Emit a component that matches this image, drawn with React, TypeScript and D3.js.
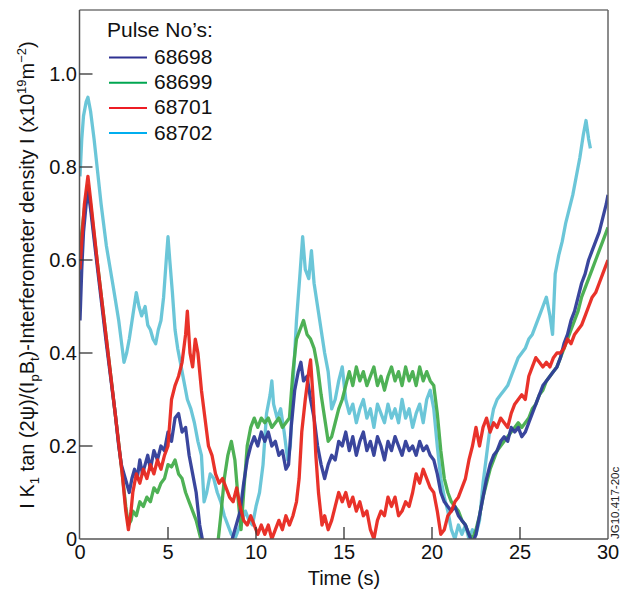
import React from "react";
import * as d3 from "d3";

type P = [number, number];

const xTicks = [0, 5, 10, 15, 20, 25, 30];
const yTicks = [0, 0.2, 0.4, 0.6, 0.8, 1.0];
const yTickLabels = ["0", "0.2", "0.4", "0.6", "0.8", "1.0"];

const pulse68698: P[] = [
  [0,0.47],[0.1,0.58],[0.2,0.66],[0.35,0.72],[0.45,0.75],[0.6,0.71],[1.0,0.58],[1.5,0.42],[2.0,0.27],[2.2,0.2],[2.35,0.16],[2.5,0.14],[2.65,0.12],[2.8,0.1],[2.95,0.13],[3.1,0.15],[3.25,0.13],[3.4,0.17],[3.55,0.14],[3.7,0.16],[3.85,0.18],[4.0,0.15],[4.2,0.19],[4.4,0.17],[4.6,0.2],[4.8,0.19],[5.0,0.23],[5.2,0.21],[5.4,0.26],[5.6,0.27],[5.8,0.23],[6.0,0.24],[6.2,0.18],[6.4,0.14],[6.6,0.1],[6.8,0.03],[6.95,0.0],[7.2,-0.02],[8.5,-0.02],[8.8,0.02],[9.1,0.06],[9.3,0.12],[9.5,0.17],[9.7,0.2],[9.9,0.22],[10.1,0.2],[10.3,0.23],[10.5,0.21],[10.7,0.23],[10.9,0.2],[11.1,0.21],[11.3,0.18],[11.5,0.19],[11.7,0.15],[11.85,0.16],[12.0,0.24],[12.2,0.32],[12.4,0.36],[12.55,0.38],[12.7,0.34],[12.9,0.35],[13.1,0.3],[13.3,0.26],[13.5,0.2],[13.7,0.16],[13.9,0.13],[14.1,0.16],[14.3,0.18],[14.5,0.17],[14.7,0.21],[14.9,0.2],[15.1,0.23],[15.3,0.19],[15.5,0.22],[15.7,0.18],[15.9,0.21],[16.1,0.23],[16.3,0.19],[16.5,0.21],[16.7,0.18],[16.9,0.22],[17.1,0.2],[17.3,0.17],[17.5,0.21],[17.7,0.19],[17.9,0.22],[18.1,0.2],[18.3,0.18],[18.5,0.21],[18.7,0.19],[18.9,0.2],[19.1,0.18],[19.3,0.21],[19.5,0.19],[19.7,0.2],[19.9,0.18],[20.1,0.17],[20.3,0.14],[20.5,0.1],[20.7,0.08],[20.9,0.07],[21.1,0.06],[21.3,0.07],[21.5,0.05],[21.7,0.04],[21.9,0.03],[22.1,0.01],[22.3,-0.01],[22.5,0.01],[22.7,0.05],[22.9,0.09],[23.1,0.13],[23.3,0.16],[23.5,0.18],[23.7,0.19],[23.9,0.21],[24.1,0.22],[24.3,0.21],[24.5,0.24],[24.7,0.23],[24.9,0.24],[25.1,0.22],[25.3,0.23],[25.5,0.25],[25.7,0.27],[25.9,0.29],[26.1,0.31],[26.3,0.33],[26.5,0.34],[26.7,0.35],[26.9,0.36],[27.1,0.37],[27.3,0.39],[27.5,0.42],[27.7,0.44],[27.9,0.47],[28.1,0.49],[28.3,0.52],[28.5,0.55],[28.7,0.57],[28.9,0.6],[29.1,0.62],[29.3,0.64],[29.5,0.66],[29.7,0.69],[29.9,0.72],[30,0.74]
];

const pulse68699: P[] = [
  [0,0.6],[0.1,0.66],[0.25,0.71],[0.45,0.76],[0.6,0.72],[1.0,0.59],[1.5,0.43],[2.0,0.27],[2.4,0.14],[2.6,0.07],[2.75,0.03],[2.9,0.04],[3.0,0.06],[3.2,0.05],[3.4,0.08],[3.6,0.07],[3.8,0.09],[4.0,0.08],[4.2,0.11],[4.4,0.1],[4.6,0.12],[4.8,0.13],[5.0,0.16],[5.2,0.155],[5.4,0.17],[5.6,0.14],[5.8,0.13],[6.0,0.1],[6.2,0.08],[6.4,0.06],[6.6,0.04],[6.8,0.01],[7.0,-0.02],[7.8,-0.02],[8.0,0.05],[8.2,0.13],[8.4,0.18],[8.6,0.21],[8.8,0.17],[9.0,0.08],[9.15,0.02],[9.3,0.1],[9.5,0.2],[9.7,0.24],[9.9,0.26],[10.1,0.24],[10.3,0.26],[10.5,0.25],[10.7,0.26],[10.9,0.24],[11.1,0.25],[11.3,0.26],[11.5,0.24],[11.7,0.25],[11.9,0.26],[12.1,0.36],[12.3,0.43],[12.5,0.45],[12.7,0.47],[12.9,0.44],[13.1,0.43],[13.3,0.41],[13.5,0.37],[13.7,0.31],[13.9,0.26],[14.1,0.21],[14.3,0.22],[14.5,0.25],[14.7,0.28],[14.9,0.3],[15.1,0.33],[15.3,0.36],[15.5,0.33],[15.7,0.37],[15.9,0.34],[16.1,0.36],[16.3,0.33],[16.5,0.35],[16.7,0.37],[16.9,0.33],[17.1,0.35],[17.3,0.32],[17.5,0.35],[17.7,0.37],[17.9,0.34],[18.1,0.36],[18.3,0.33],[18.5,0.37],[18.7,0.34],[18.9,0.36],[19.1,0.33],[19.3,0.37],[19.5,0.34],[19.7,0.36],[19.9,0.34],[20.1,0.33],[20.3,0.27],[20.5,0.19],[20.7,0.13],[20.9,0.1],[21.1,0.08],[21.3,0.07],[21.5,0.06],[21.7,0.04],[21.9,0.03],[22.1,0.01],[22.3,0.0],[22.5,0.02],[22.7,0.05],[22.9,0.09],[23.1,0.12],[23.3,0.15],[23.5,0.17],[23.7,0.19],[23.9,0.2],[24.1,0.21],[24.3,0.22],[24.5,0.23],[24.7,0.24],[24.9,0.25],[25.1,0.24],[25.3,0.25],[25.5,0.26],[25.7,0.28],[25.9,0.29],[26.1,0.31],[26.3,0.32],[26.5,0.34],[26.7,0.35],[26.9,0.36],[27.1,0.37],[27.3,0.39],[27.5,0.41],[27.7,0.43],[27.9,0.45],[28.1,0.47],[28.3,0.49],[28.5,0.52],[28.7,0.54],[28.9,0.56],[29.1,0.58],[29.3,0.6],[29.5,0.62],[29.7,0.64],[29.9,0.66],[30,0.67]
];

const pulse68701: P[] = [
  [0,0.58],[0.1,0.64],[0.25,0.72],[0.45,0.78],[0.6,0.73],[1.0,0.59],[1.5,0.43],[2.0,0.27],[2.4,0.14],[2.6,0.06],[2.75,0.02],[2.9,0.06],[3.0,0.1],[3.2,0.14],[3.4,0.12],[3.6,0.15],[3.8,0.13],[4.0,0.16],[4.2,0.14],[4.4,0.17],[4.6,0.15],[4.8,0.18],[5.0,0.2],[5.2,0.3],[5.4,0.33],[5.6,0.35],[5.8,0.38],[6.0,0.44],[6.1,0.49],[6.25,0.4],[6.4,0.37],[6.55,0.43],[6.7,0.4],[6.9,0.32],[7.1,0.26],[7.3,0.2],[7.5,0.18],[7.7,0.14],[7.9,0.12],[8.1,0.13],[8.3,0.11],[8.5,0.09],[8.7,0.08],[8.9,0.11],[9.1,0.07],[9.3,0.04],[9.5,0.03],[9.7,0.05],[9.9,0.03],[10.1,0.01],[10.3,0.03],[10.5,0.01],[10.7,0.03],[10.9,0.0],[11.1,0.02],[11.3,0.04],[11.5,0.02],[11.7,0.05],[11.9,0.03],[12.1,0.05],[12.3,0.08],[12.45,0.13],[12.6,0.23],[12.8,0.3],[13.0,0.36],[13.1,0.385],[13.25,0.3],[13.4,0.18],[13.55,0.1],[13.75,0.03],[13.9,0.05],[14.1,0.02],[14.3,0.04],[14.5,0.07],[14.7,0.1],[14.9,0.08],[15.1,0.1],[15.3,0.07],[15.5,0.09],[15.7,0.06],[15.9,0.08],[16.1,0.05],[16.3,0.06],[16.5,0.02],[16.7,0.0],[16.9,0.04],[17.1,0.06],[17.3,0.05],[17.5,0.09],[17.7,0.07],[17.9,0.09],[18.1,0.05],[18.3,0.06],[18.5,0.08],[18.7,0.07],[18.9,0.1],[19.1,0.14],[19.3,0.12],[19.5,0.15],[19.7,0.13],[19.9,0.11],[20.1,0.1],[20.3,0.06],[20.5,0.01],[20.7,0.02],[20.9,0.05],[21.1,0.06],[21.3,0.08],[21.5,0.09],[21.7,0.11],[21.9,0.13],[22.1,0.17],[22.3,0.2],[22.5,0.24],[22.7,0.2],[22.9,0.24],[23.1,0.26],[23.3,0.23],[23.5,0.25],[23.7,0.24],[23.9,0.26],[24.1,0.25],[24.3,0.24],[24.5,0.27],[24.7,0.29],[24.9,0.3],[25.1,0.31],[25.3,0.3],[25.5,0.35],[25.7,0.37],[25.9,0.39],[26.1,0.38],[26.3,0.37],[26.5,0.38],[26.7,0.37],[26.9,0.39],[27.1,0.4],[27.3,0.4],[27.5,0.41],[27.7,0.43],[27.9,0.42],[28.1,0.44],[28.3,0.45],[28.5,0.46],[28.7,0.48],[28.9,0.5],[29.1,0.52],[29.3,0.53],[29.5,0.55],[29.7,0.57],[29.9,0.59],[30,0.6]
];

const pulse68702: P[] = [
  [0,0.78],[0.1,0.86],[0.2,0.91],[0.35,0.94],[0.45,0.95],[0.6,0.92],[0.8,0.86],[1.0,0.79],[1.2,0.72],[1.5,0.63],[1.9,0.54],[2.2,0.47],[2.4,0.41],[2.5,0.38],[2.65,0.4],[2.8,0.43],[3.0,0.48],[3.2,0.53],[3.35,0.5],[3.5,0.48],[3.7,0.5],[3.85,0.46],[4.0,0.45],[4.15,0.43],[4.3,0.42],[4.45,0.45],[4.6,0.47],[4.75,0.52],[4.9,0.6],[5.0,0.65],[5.1,0.6],[5.25,0.53],[5.4,0.45],[5.55,0.41],[5.7,0.38],[5.9,0.34],[6.1,0.3],[6.3,0.28],[6.5,0.25],[6.7,0.21],[6.9,0.18],[7.05,0.08],[7.2,0.1],[7.4,0.14],[7.6,0.13],[7.8,0.1],[8.0,0.08],[8.2,0.05],[8.4,0.03],[8.6,0.01],[8.8,0.0],[9.0,0.02],[9.2,0.04],[9.4,0.06],[9.6,0.04],[9.8,0.03],[10.0,0.07],[10.2,0.1],[10.4,0.16],[10.6,0.27],[10.8,0.31],[10.9,0.34],[11.0,0.29],[11.2,0.26],[11.4,0.28],[11.6,0.23],[11.8,0.17],[11.95,0.2],[12.1,0.33],[12.3,0.47],[12.5,0.57],[12.65,0.65],[12.8,0.58],[13.0,0.56],[13.15,0.62],[13.3,0.55],[13.5,0.5],[13.7,0.45],[13.9,0.4],[14.1,0.36],[14.3,0.28],[14.5,0.3],[14.7,0.34],[14.9,0.37],[15.1,0.3],[15.3,0.27],[15.5,0.29],[15.7,0.25],[15.9,0.28],[16.1,0.3],[16.3,0.26],[16.5,0.28],[16.7,0.24],[16.9,0.29],[17.1,0.27],[17.3,0.25],[17.5,0.29],[17.7,0.26],[17.9,0.28],[18.1,0.25],[18.3,0.3],[18.5,0.26],[18.7,0.28],[18.9,0.24],[19.1,0.27],[19.3,0.29],[19.5,0.25],[19.7,0.3],[19.9,0.32],[20.1,0.28],[20.3,0.2],[20.5,0.13],[20.7,0.09],[20.9,0.06],[21.1,0.02],[21.3,0.0],[21.5,0.03],[21.7,0.01],[21.9,0.03],[22.1,0.0],[22.3,0.02],[22.5,0.01],[22.7,0.04],[22.9,0.12],[23.1,0.18],[23.3,0.24],[23.5,0.28],[23.7,0.3],[23.9,0.31],[24.1,0.32],[24.3,0.33],[24.5,0.35],[24.7,0.37],[24.9,0.39],[25.1,0.4],[25.3,0.41],[25.5,0.43],[25.7,0.44],[25.9,0.46],[26.1,0.48],[26.3,0.5],[26.5,0.52],[26.7,0.48],[26.85,0.44],[27.0,0.57],[27.2,0.61],[27.4,0.64],[27.6,0.68],[27.8,0.71],[28.0,0.74],[28.2,0.78],[28.4,0.82],[28.6,0.87],[28.75,0.9],[28.9,0.86],[29.0,0.84]
];

const seriesNames = ["68698", "68699", "68701", "68702"];
const legendColors = ["#2e3192", "#00a651", "#ed1c24", "#00aeef"];
const traceColors = ["#2f3c98", "#45ad4c", "#e8271f", "#63c3d6"];
const seriesData = [pulse68698, pulse68699, pulse68701, pulse68702];
const drawOrder = [3, 1, 0, 2];

const W = 622, H = 590;
const L = 79.5, R = 608, T = 10, B = 539;
const FONT = "'Liberation Sans', Arial, Helvetica, sans-serif";

export default function App() {
  const x = d3.scaleLinear().domain([0, 30]).range([80, R]);
  const y = d3.scaleLinear().domain([0, 1.0]).range([B, 74]);
  const line = d3.line<P>().x(d => x(d[0])).y(d => y(d[1]));

  return (
    <svg width={W} height={H} style={{ position: "absolute", left: 0, top: 0, background: "#fff" }}
      fontFamily={FONT}>
      <defs>
        <clipPath id="plot"><rect x={L} y={T} width={R - L} height={B - T} /></clipPath>
      </defs>
      <rect x={0} y={0} width={W} height={H} fill="#fff" />
      <g clipPath="url(#plot)">
        {drawOrder.map(i => (
          <path key={i} d={line(seriesData[i]) || ""} fill="none" stroke={traceColors[i]}
            strokeWidth={3.3} strokeLinejoin="round" opacity={0.95} />
        ))}
      </g>
      {/* frame */}
      <line x1={L} y1={T} x2={R} y2={T} stroke="#333" strokeWidth={1.2} />
      <line x1={R} y1={T} x2={R} y2={B} stroke="#666" strokeWidth={1.5} />
      <line x1={L} y1={T} x2={L} y2={B} stroke="#555" strokeWidth={1.5} />
      <line x1={L} y1={B} x2={R} y2={B} stroke="#555" strokeWidth={1.5} />
      {/* y ticks */}
      {yTicks.map((v, i) => (
        <g key={"y" + i}>
          {v > 0 && <line x1={L} x2={L + 13} y1={y(v)} y2={y(v)} stroke="#333" strokeWidth={1.3} />}
          <text x={77} y={y(v)} dy="0.36em" textAnchor="end" fontSize={20} fill="#111">{yTickLabels[i]}</text>
        </g>
      ))}
      {/* x ticks */}
      {xTicks.map((v, i) => (
        <g key={"x" + i}>
          {v > 0 && v < 30 && <line x1={x(v)} x2={x(v)} y1={B} y2={B - 12} stroke="#333" strokeWidth={1.3} />}
          <text x={x(v)} y={559} textAnchor="middle" fontSize={20} fill="#111">{v}</text>
        </g>
      ))}
      <text x={(80 + R) / 2} y={585} textAnchor="middle" fontSize={20} fill="#111">Time (s)</text>
      {/* y label */}
      <text transform={`translate(34,275) rotate(-90)`} textAnchor="middle" fontSize={20} fill="#111">
        <tspan>I K</tspan><tspan fontSize={13} dy={5}>1</tspan>
        <tspan dy={-5}> tan (2ψ)/(I</tspan><tspan fontSize={13} dy={5}>p</tspan>
        <tspan dy={-5}>B</tspan><tspan fontSize={13} dy={5}>t</tspan>
        <tspan dy={-5}>)-Interferometer density I (x10</tspan><tspan fontSize={13} dy={-8}>19</tspan>
        <tspan dy={8}>m</tspan><tspan fontSize={13} dy={-8}>−2</tspan><tspan dy={8}>)</tspan>
      </text>
      {/* legend */}
      <text x={107} y={37} fontSize={21} fill="#111">Pulse No’s:</text>
      {seriesNames.map((n, i) => {
        const ly = 57.5 + i * 25.2;
        return (
          <g key={n}>
            <line x1={109} x2={147} y1={ly} y2={ly} stroke={legendColors[i]} strokeWidth={2} />
            <text x={154} y={ly + 6.5} fontSize={21} fill="#111">{n}</text>
          </g>
        );
      })}
      <text transform={`translate(619,539) rotate(-90)`} fontSize={11.5} fill="#222">JG10.417-20c</text>
    </svg>
  );
}
